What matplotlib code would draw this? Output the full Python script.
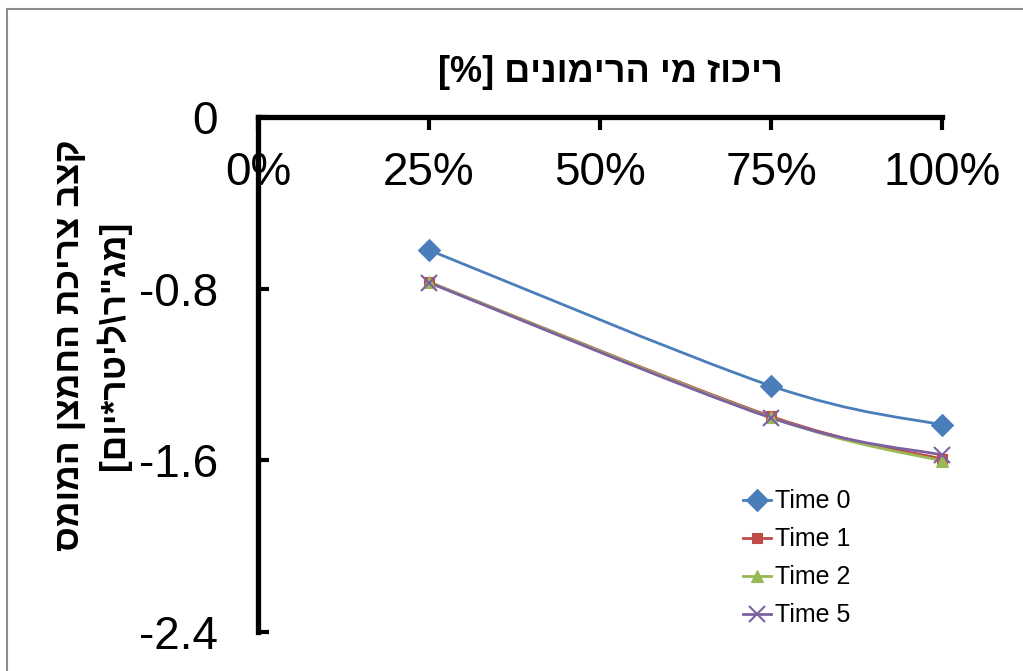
import matplotlib
matplotlib.use("Agg")
import matplotlib.pyplot as plt
from matplotlib.path import Path
from matplotlib.patches import PathPatch
from matplotlib.lines import Line2D

plt.rcParams['font.family'] = ['Liberation Sans', 'DejaVu Sans']

# pomegranate juice concentration vs. dissolved oxygen uptake rate
conc = [0.25, 0.75, 1.0]
time0 = [-0.62, -1.253, -1.435]
time1 = [-0.769, -1.395, -1.594]
time2 = [-0.769, -1.40, -1.603]
time5 = [-0.772, -1.402, -1.575]

series = [
    ("Time 0", time0, "#4A7EBB", "D", 11),
    ("Time 1", time1, "#BE4B48", "s", 7),
    ("Time 2", time2, "#98B954", "^", 8),
    ("Time 5", time5, "#7D60A0", "x", 11),
]

xticks = [0, 0.25, 0.5, 0.75, 1.0]
xticklabels = ["0%", "25%", "50%", "75%", "100%"]
yticks = [0, -0.8, -1.6, -2.4]
yticklabels = ["0", "-0.8", "-1.6", "-2.4"]

# Hebrew strings written in display order (matplotlib has no bidi support)
xtitle = "[%] " + "ריכוז מי הרימונים"[::-1]
ytitle1 = "קצב צריכת החמצן המומס"[::-1]
ytitle2 = "[" + 'מג"ר\\ליטר*יום'[::-1] + "]"


def smooth_path(xs, ys, k=1 / 6):
    # cubic bezier through the points, like a spreadsheet "smoothed line"
    pts = list(zip(xs, ys))
    verts = [pts[0]]
    codes = [Path.MOVETO]
    for i in range(len(pts) - 1):
        p0 = pts[i - 1] if i > 0 else pts[i]
        p1 = pts[i]
        p2 = pts[i + 1]
        p3 = pts[i + 2] if i + 2 < len(pts) else pts[i + 1]
        c1 = (p1[0] + (p2[0] - p0[0]) * k, p1[1] + (p2[1] - p0[1]) * k)
        c2 = (p2[0] - (p3[0] - p1[0]) * k, p2[1] - (p3[1] - p1[1]) * k)
        verts += [c1, c2, p2]
        codes += [Path.CURVE4] * 3
    return Path(verts, codes)


fig = plt.figure(figsize=(10.23, 6.71), dpi=100)
ax = fig.add_axes([258 / 1023, 1 - 632 / 671, 684 / 1023, 515 / 671])

handles = []
for name, vals, col, mk, ms in series:
    ax.add_patch(PathPatch(smooth_path(conc, vals), facecolor="none",
                           edgecolor=col, lw=2.0, clip_on=False, zorder=3))
    ax.plot(conc, vals, linestyle="none", marker=mk, color=col, ms=ms,
            mew=1.5 if mk == "x" else 0.8, clip_on=False, zorder=4)
    handles.append(Line2D([], [], color=col, lw=2.0, marker=mk, ms=ms,
                          mew=1.5 if mk == "x" else 0.8, label=name))

ax.set_xlim(0, 1)
ax.set_ylim(-2.4, 0)

for s in ["bottom", "right"]:
    ax.spines[s].set_visible(False)
ax.spines["top"].set_linewidth(3.8)
ax.spines["left"].set_linewidth(3.8)
ax.spines["top"].set_capstyle("projecting")

ax.xaxis.set_ticks_position("top")
ax.set_xticks(xticks)
ax.set_xticklabels(xticklabels, fontsize=33)
ax.tick_params(axis="x", direction="in", length=9, width=3, pad=-56)
for lab in ax.get_xticklabels():
    lab.set_verticalalignment("bottom")

ax.set_yticks(yticks)
ax.set_yticklabels(yticklabels, fontsize=33)
ax.tick_params(axis="y", direction="in", length=8, width=3, pad=29)

fig.text(610 / 1023, 1 - 72 / 671, xtitle, fontsize=26, fontweight="bold",
         ha="center", va="center")
fig.text(70 / 1023, 1 - 345 / 671, ytitle1, fontsize=25.5, fontweight="bold",
         rotation=90, ha="center", va="center")
fig.text(113 / 1023, 1 - 345 / 671, ytitle2, fontsize=25.5, fontweight="bold",
         rotation=90, ha="center", va="center")

ax.legend(handles=handles, loc="lower left",
          bbox_to_anchor=(730 / 1023, 1 - 640 / 671), bbox_transform=fig.transFigure,
          frameon=False, fontsize=18, numpoints=1, handlelength=1.15,
          handletextpad=0.15, labelspacing=0.56, borderpad=0)

# chart area border
fig.add_artist(Line2D([7 / 1023, 7 / 1023], [0, 1 - 9 / 671], color="#8c8c8c", lw=1.5))
fig.add_artist(Line2D([7 / 1023, 1], [1 - 9 / 671, 1 - 9 / 671], color="#8c8c8c", lw=1.5))

fig.savefig("out.png", dpi=100)
